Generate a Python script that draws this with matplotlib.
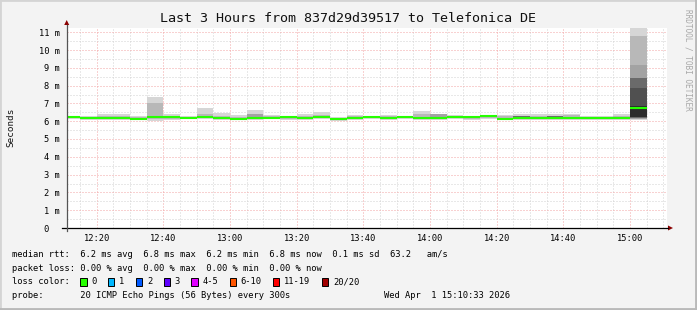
import numpy as np
import matplotlib
matplotlib.use("Agg")
import matplotlib.pyplot as plt
from matplotlib.patches import Rectangle, Polygon
from matplotlib.lines import Line2D

# ---------------- data ----------------
title = "Last 3 Hours from 837d29d39517 to Telefonica DE"
first_interval = "12:10"          # start of first 5-minute interval
step_min = 5
x_tick_labels = ["12:20", "12:40", "13:00", "13:20", "13:40", "14:00", "14:20", "14:40", "15:00"]
y_tick_values = list(range(0, 12))

median_ms = [6.25, 6.17, 6.17, 6.17, 6.14, 6.22, 6.22, 6.18, 6.24, 6.19,
             6.15, 6.18, 6.20, 6.24, 6.20, 6.25, 6.15, 6.17, 6.25, 6.19,
             6.24, 6.16, 6.16, 6.24, 6.22, 6.27, 6.14, 6.17, 6.17, 6.17,
             6.17, 6.17, 6.17, 6.17, 6.75]

# smoke bands (outer -> inner), lo/hi in ms; nan = no distinct band
smoke1_hi = [6.32, 6.30, 6.40, 6.40, 6.28, 7.37, 6.40, 6.30, 6.73, 6.47,
             6.35, 6.62, 6.36, 6.30, 6.40, 6.50, 6.25, 6.36, 6.30, 6.36,
             6.30, 6.58, 6.42, 6.36, 6.32, 6.32, 6.36, 6.40, 6.40, 6.40,
             6.38, 6.30, 6.30, 6.40, 11.24]
smoke1_lo = [6.12, 6.08, 6.08, 6.08, 6.06, 6.00, 6.08, 6.10, 6.10, 6.08,
             6.06, 6.08, 6.10, 6.06, 6.08, 6.10, 6.00, 6.08, 6.10, 6.08,
             6.10, 6.06, 6.06, 6.10, 6.06, 6.10, 6.04, 6.04, 6.06, 6.04,
             6.06, 6.04, 6.04, 6.04, 6.05]
smoke2_hi = [6.28, 6.26, 6.30, 6.30, 6.22, 7.05, 6.32, 6.25, 6.42, 6.30,
             6.25, 6.42, 6.30, 6.28, 6.32, 6.35, 6.20, 6.28, 6.28, 6.28,
             6.28, 6.40, 6.36, 6.30, 6.28, 6.30, 6.30, 6.32, 6.32, 6.30,
             6.34, 6.22, 6.22, 6.32, 10.77]
smoke2_lo = [6.18, 6.12, 6.12, 6.12, 6.10, 6.10, 6.14, 6.14, 6.16, 6.12,
             6.10, 6.12, 6.14, 6.12, 6.12, 6.16, 6.06, 6.12, 6.16, 6.12,
             6.16, 6.10, 6.10, 6.16, 6.10, 6.16, 6.08, 6.10, 6.10, 6.10,
             6.10, 6.10, 6.10, 6.10, 6.10]
nan = float("nan")
smoke3_hi = [nan] * 11 + [6.42] + [nan] * 10 + [6.40] + [nan] * 11 + [9.15]
smoke3_lo = [nan] * 11 + [6.20] + [nan] * 10 + [6.20] + [nan] * 11 + [6.15]
smoke4_hi = [nan] * 27 + [6.31, nan, 6.31] + [nan] * 4 + [8.40]
smoke4_lo = [nan] * 27 + [6.24, nan, 6.24] + [nan] * 4 + [6.20]
smoke5_hi = [nan] * 34 + [7.84]
smoke5_lo = [nan] * 34 + [6.22]
smoke6_hi = [nan] * 34 + [6.87]
smoke6_lo = [nan] * 34 + [6.22]

legend_rtt = "median rtt:  6.2 ms avg  6.8 ms max  6.2 ms min  6.8 ms now  0.1 ms sd  63.2   am/s"
legend_loss = "packet loss: 0.00 % avg  0.00 % max  0.00 % min  0.00 % now"
loss_labels = ["0", "1", "2", "3", "4-5", "6-10", "11-19", "20/20"]
loss_colors = ["#26ff00", "#00b8ff", "#0059ff", "#5e00ff", "#e000ff", "#ff5500", "#ff0000", "#a10000"]
probe_text = "probe:       20 ICMP Echo Pings (56 Bytes) every 300s"
date_text = "Wed Apr  1 15:10:33 2026"
y_label = "Seconds"
watermark = "RRDTOOL / TOBI OETIKER"

# ---------------- layout ----------------
W, H = 697, 310
MONO = "DejaVu Sans Mono"
FS = 6.35

def hm(s):
    h, m = s.split(":")
    return (int(h) - 12) * 60 + int(m)

def fx(x):
    return x / W

def fy(y):
    return 1 - y / H

fig = plt.figure(figsize=(W / 100, H / 100), dpi=100, facecolor="#f3f3f3")

left_px, right_px, top_px, bot_px = 66.7, 666.7, 27.5, 228.0
ax = fig.add_axes([fx(left_px), fy(bot_px), (right_px - left_px) / W, (bot_px - top_px) / H])
ax.set_facecolor("white")

t0 = hm(first_interval)
n = len(median_ms)
starts = np.array([t0 + step_min * i for i in range(n)], dtype=float)

band_colors = ["#d6d6d6", "#b8b8b8", "#a3a3a3", "#6a6a6a", "#505050", "#2c2c2c"]
bands = [(smoke1_lo, smoke1_hi), (smoke2_lo, smoke2_hi), (smoke3_lo, smoke3_hi),
         (smoke4_lo, smoke4_hi), (smoke5_lo, smoke5_hi), (smoke6_lo, smoke6_hi)]
for (lo, hi), c in zip(bands, band_colors):
    lo = np.array(lo, dtype=float)
    hi = np.array(hi, dtype=float)
    ok = ~np.isnan(lo)
    ax.bar(starts[ok], hi[ok] - lo[ok], bottom=lo[ok], width=step_min, align="edge",
           color=c, linewidth=0, zorder=2)

ax.hlines(median_ms, starts, starts + step_min, colors="#26ff00", linewidth=1.5, zorder=3)

# limits / ticks
x_left = hm("12:11")
ax.set_xlim(x_left, x_left + 180)
ymax = (bot_px - top_px) / 17.8
ax.set_ylim(0, ymax)

xt = [hm(s) for s in x_tick_labels]
ax.set_xticks(xt)
ax.set_xticklabels(x_tick_labels, fontsize=FS, family=MONO)
ax.set_xticks(np.arange(15, 191, 5), minor=True)
ax.set_yticks(y_tick_values)
ax.set_yticklabels(["0\u00a0\u00a0" if v == 0 else f"{v} m" for v in y_tick_values],
                   fontsize=FS, family=MONO)
ax.set_yticks(np.arange(0.5, ymax, 0.5), minor=True)
ax.tick_params(which="both", length=0)
ax.tick_params(axis="x", pad=4.2)
ax.tick_params(axis="y", pad=5.0)
for s in ax.spines.values():
    s.set_visible(False)

ax.set_axisbelow(True)
dot = (0, (1, 2))
ax.grid(which="minor", color="#d2d2d2", linestyle=dot, linewidth=0.72, zorder=0)
ax.grid(which="major", color="#f3a4a4", linestyle=dot, linewidth=0.72, zorder=1)

# axes lines and arrows (figure pixel coords)
fig.add_artist(Line2D([fx(62), fx(668)], [fy(228), fy(228)], color="black", lw=0.9))
fig.add_artist(Line2D([fx(66.7), fx(66.7)], [fy(231), fy(25)], color="#555555", lw=0.9))
fig.add_artist(Polygon([(fx(668), fy(225.5)), (fx(673), fy(228)), (fx(668), fy(230.5))],
                       closed=True, color="#8b0000", lw=0, transform=fig.transFigure))
fig.add_artist(Polygon([(fx(64.2), fy(25)), (fx(66.7), fy(20)), (fx(69.2), fy(25))],
                       closed=True, color="#8b0000", lw=0, transform=fig.transFigure))

# title and labels
fig.text(fx(348), fy(19), title, ha="center", va="center", fontsize=9.6, family=MONO, color="#111111")
fig.text(fx(10.5), fy(127), y_label, rotation=90, ha="center", va="center", fontsize=FS + 0.3,
         family=MONO, color="#111111")
fig.text(fx(688), fy(60), watermark, rotation=270, ha="center", va="center", fontsize=5.6,
         family=MONO, color="#a8a8a8")

# legend
lx = 12
fig.text(fx(lx), fy(254.6), legend_rtt, ha="left", va="center", fontsize=FS, family=MONO)
fig.text(fx(lx), fy(268.3), legend_loss, ha="left", va="center", fontsize=FS, family=MONO)
fig.text(fx(lx), fy(282.0), "loss color:", ha="left", va="center", fontsize=FS, family=MONO)
cw = 5.3
bx = lx + 13 * cw - 0.5
for lab, col in zip(loss_labels, loss_colors):
    fig.add_artist(Rectangle((fx(bx), fy(285.8)), 6.3 / W, 7.8 / H, facecolor=col,
                             edgecolor="black", linewidth=0.7, transform=fig.transFigure))
    tx = bx + 11.3
    fig.text(fx(tx), fy(282.0), lab, ha="left", va="center", fontsize=FS, family=MONO)
    bx = tx + len(lab) * cw + 11.1
fig.text(fx(lx), fy(295.8), probe_text, ha="left", va="center", fontsize=FS, family=MONO)
fig.text(fx(384.3), fy(295.8), date_text, ha="left", va="center", fontsize=FS, family=MONO)

# frame
fig.add_artist(Line2D([0, 0, 1], [0, 1, 1], color="#d4d4d4", lw=2.0, transform=fig.transFigure))
fig.add_artist(Line2D([0, 1, 1], [0, 0, 1], color="#b9b9b9", lw=3.5, transform=fig.transFigure))

fig.savefig("out.png", dpi=100, facecolor=fig.get_facecolor())
